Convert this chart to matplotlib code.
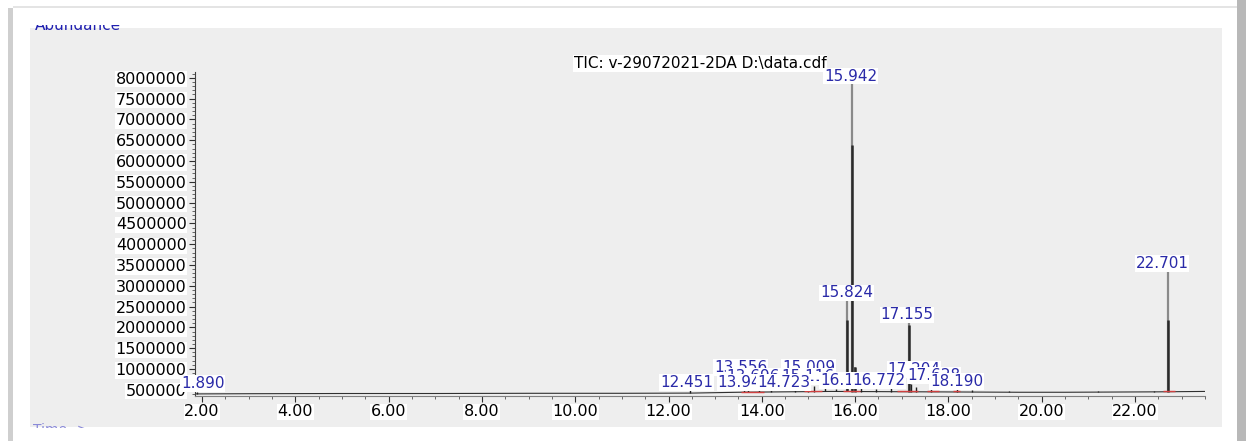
import matplotlib.pyplot as plt
import numpy as np
from matplotlib.patches import Rectangle
from matplotlib.ticker import MultipleLocator, FormatStrFormatter

# baseline of the trace (retention time, abundance)
baza_rt = [1.85, 3.0, 5.0, 7.0, 9.0, 11.0, 12.5, 13.5, 14.5, 15.5, 16.5, 17.5, 18.5, 19.5, 20.5, 21.5, 22.5, 23.5]
baza_y = [400000, 405000, 410000, 410000, 415000, 415000, 420000, 440000, 450000, 460000,
          455000, 450000, 445000, 440000, 440000, 445000, 450000, 460000]

# big peaks: apex, dark body
duze_rt = [15.824, 15.942, 15.99, 17.155, 22.701]
duze_szczyt = [2710000, 7870000, 1050000, 2140000, 3380000]
duze_korpus = [2180000, 6380000, 1050000, 2050000, 2180000]

# small peaks in the noise
male_rt = [1.89, 12.451, 13.62, 13.70, 13.95, 14.20, 14.72, 15.00, 15.116, 15.35, 15.60,
           16.13, 16.45, 16.77, 17.204, 17.30, 17.628, 18.19, 18.50, 19.30, 21.20, 22.40]
male_y = [450000, 520000, 560000, 545000, 580000, 500000, 530000, 520000, 600000, 560000, 520000,
          580000, 510000, 620000, 640000, 560000, 600000, 540000, 500000, 480000, 470000, 480000]

# integration marks
czerwone_od = [13.55, 14.90, 15.75, 16.90, 17.55, 18.10, 22.60]
czerwone_do = [14.05, 15.30, 16.10, 17.35, 17.80, 18.25, 22.85]

# peak labels: text, x, y
etykiety = ["13.556", "15.009", "13.696", "15.116", "17.204", "1.890", "12.451", "13.941",
            "14.723", "16.136", "16.772", "17.628", "18.190",
            "15.824", "15.942", "17.155", "22.701"]
etykiety_x = [13.55, 15.00, 13.82, 14.98, 17.26, 2.02, 12.39, 13.62,
              14.47, 15.82, 16.50, 17.69, 18.18,
              15.82, 15.90, 17.11, 22.58]
etykiety_y = [1030000, 1030000, 817000, 817000, 985000, 650000, 673000, 673000,
              673000, 721000, 721000, 841000, 697000,
              2830000, 8040000, 2300000, 3530000]

tytul = "TIC: v-29072021-2DA D:\\data.cdf"

W, H = 1246, 441
fig = plt.figure(figsize=(W / 100, H / 100), dpi=100)
fig.patch.set_facecolor("white")

def px(x0, y0, x1, y1):
    return [x0 / W, 1 - y1 / H, (x1 - x0) / W, (y1 - y0) / H]

def prostokat(r, c, z):
    fig.patches.append(Rectangle((r[0], r[1]), r[2], r[3], transform=fig.transFigure,
                                 facecolor=c, edgecolor="none", zorder=z))

# grey panel and frame shadow
prostokat(px(30, 28, 1222, 427), "#eeeeee", -5)
prostokat(px(8, 8, 13, 441), "#cfcfcf", -2)
prostokat(px(1237, 0, 1246, 441), "#b8b8b8", -2)
prostokat(px(13, 6, 1237, 8), "#e4e4e4", -2)

# half-hidden "Abundance" (top cut) and "Time-->" (bottom cut), in pixel-sized small axes
a1 = fig.add_axes(px(30, 10, 150, 31))
a1.axis("off")
a1.set_xlim(0, 120)
a1.set_ylim(21, 0)
a1.text(5, 19.5, "Abundance", color="#2020b0", fontsize=11, va="baseline", zorder=1)
a1.add_patch(Rectangle((0, 0), 120, 15, facecolor="white", edgecolor="none", zorder=5))
a2 = fig.add_axes(px(30, 420, 150, 441))
a2.axis("off")
a2.set_xlim(0, 120)
a2.set_ylim(21, 0)
a2.text(3, 3.5, "Time-->", color="#8a8ad8", fontsize=10, va="top", zorder=1)
a2.add_patch(Rectangle((0, 8), 120, 13, facecolor="white", edgecolor="none", zorder=5))

ax = fig.add_axes(px(195, 72, 1205, 396))
ax.patch.set_visible(False)
ax.set_xlim(1.85, 23.5)
ax.set_ylim(350000, 8140000)

# trace
ax.plot(baza_rt, baza_y, color="#303030", lw=0.8, zorder=2)
tlo = np.interp(male_rt, baza_rt, baza_y)
ax.vlines(male_rt, tlo, male_y, color="#202020", lw=1.0, zorder=2)
tlo_d = np.interp(duze_rt, baza_rt, baza_y)
ax.vlines(duze_rt, tlo_d, duze_szczyt, color="#8a8a8a", lw=1.6, zorder=2)
ax.vlines(duze_rt, tlo_d, duze_korpus, color="#2a2a2a", lw=1.8, zorder=2)
tlo_c = np.interp(czerwone_od, baza_rt, baza_y)
ax.hlines(tlo_c + 15000, czerwone_od, czerwone_do, color="#d04040", lw=1.0, zorder=2)

for i, (t, x, y) in enumerate(zip(etykiety, etykiety_x, etykiety_y)):
    ax.text(x, y, t, color="#2a2aa8", fontsize=11, ha="center", va="center", zorder=3 + i * 0.01,
            bbox=dict(facecolor="white", edgecolor="none", pad=0.6))

ax.set_title(tytul, fontsize=11, pad=3,
             bbox=dict(facecolor="white", edgecolor="none", pad=0.6))

for s in ["top", "right"]:
    ax.spines[s].set_visible(False)
ax.spines["left"].set_color("#404040")
ax.spines["bottom"].set_color("#808080")

ax.xaxis.set_major_locator(MultipleLocator(2))
ax.xaxis.set_minor_locator(MultipleLocator(0.5))
ax.xaxis.set_major_formatter(FormatStrFormatter("%.2f"))
ax.yaxis.set_major_locator(MultipleLocator(500000))
ax.yaxis.set_minor_locator(MultipleLocator(100000))
ax.yaxis.set_major_formatter(FormatStrFormatter("%d"))
ax.tick_params(axis="both", which="major", length=4, labelsize=11.5, colors="#303030")
ax.tick_params(axis="both", which="minor", length=2, colors="#505050")
ax.tick_params(axis="x", pad=2)
ax.tick_params(axis="y", pad=2)
for lab in ax.get_xticklabels() + ax.get_yticklabels():
    lab.set_color("black")
    lab.set_bbox(dict(facecolor="white", edgecolor="none", pad=0.5))

fig.savefig("out.png", dpi=100)
